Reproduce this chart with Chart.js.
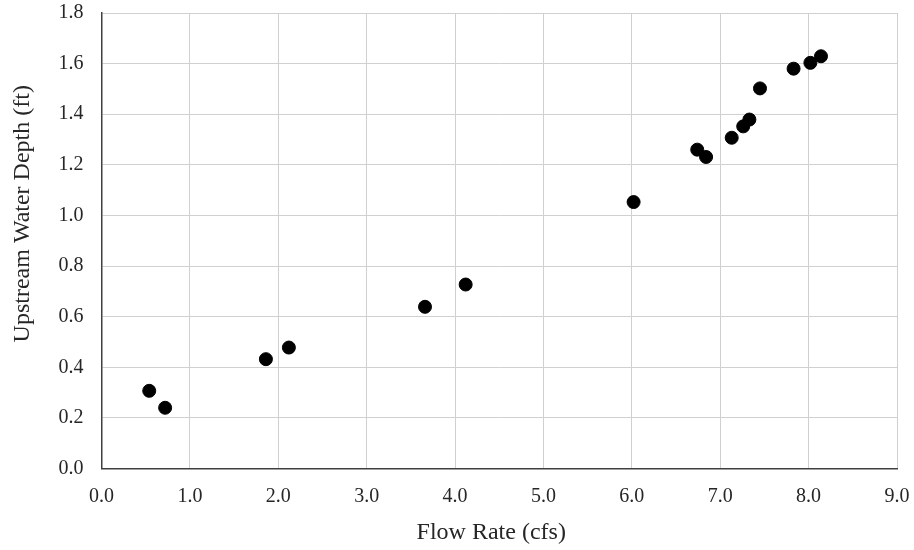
<!DOCTYPE html>
<html>
<head>
<meta charset="utf-8">
<script src="https://cdn.jsdelivr.net/npm/chart.js@4/dist/chart.umd.min.js"></script>
<style>
html,body{margin:0;padding:0;background:#fff;}
#wrap{width:914px;height:550px;position:relative;}
</style>
</head>
<body>
<div id="wrap"><canvas id="c" width="914" height="550"></canvas></div>
<script>
const flowRate = [0.54, 0.72, 1.86, 2.12, 3.66, 4.12, 6.02, 6.74, 6.84, 7.13, 7.26, 7.33, 7.45, 7.83, 8.02, 8.14];
const waterDepth = [0.307, 0.240, 0.432, 0.478, 0.639, 0.727, 1.053, 1.260, 1.231, 1.307, 1.352, 1.379, 1.502, 1.580, 1.603, 1.629];
const xTitle = 'Flow Rate (cfs)';
const yTitle = 'Upstream Water Depth (ft)';

const points = flowRate.map((x, i) => ({x: x, y: waterDepth[i]}));
const serif = '"Liberation Serif", "Times New Roman", serif';
const textColor = '#262626';

const axisTitles = {
  id: 'axisTitles',
  afterDraw(chart) {
    const ctx = chart.ctx, a = chart.chartArea;
    ctx.save();
    ctx.fillStyle = textColor;
    ctx.font = '24px ' + serif;
    ctx.textAlign = 'center';
    ctx.textBaseline = 'middle';
    ctx.fillText(xTitle, (a.left + a.right) / 2 - 8, chart.height - 17);
    ctx.translate(23, (a.top + a.bottom) / 2 - 27);
    ctx.rotate(-Math.PI / 2);
    ctx.fillText(yTitle, 0, 0);
    ctx.restore();
  }
};

new Chart(document.getElementById('c'), {
  type: 'scatter',
  data: {
    datasets: [{
      data: points,
      backgroundColor: '#000',
      borderColor: '#000',
      pointRadius: 6.5,
      pointHoverRadius: 6.5
    }]
  },
  options: {
    responsive: false,
    animation: false,
    events: [],
    layout: {padding: {top: 13, right: 17, left: 0, bottom: 0}},
    plugins: {legend: {display: false}, tooltip: {enabled: false}},
    scales: {
      x: {
        type: 'linear',
        min: 0, max: 9,
        ticks: {stepSize: 1, color: textColor, font: {family: serif, size: 20}, padding: 16,
          callback: v => v.toFixed(1)},
        grid: {color: '#d0d0d0', lineWidth: 1, drawTicks: false},
        border: {color: '#404040', width: 1.5},
        afterFit: s => { s.height = 81.5; s.paddingLeft = 0; s.paddingRight = 0; }
      },
      y: {
        type: 'linear',
        min: 0, max: 1.8,
        ticks: {stepSize: 0.2, color: textColor, font: {family: serif, size: 20}, padding: 18,
          callback: v => v.toFixed(1)},
        grid: {color: '#d0d0d0', lineWidth: 1, drawTicks: false},
        border: {color: '#404040', width: 1.5},
        afterFit: s => { s.width = 101.5; s.paddingTop = 0; s.paddingBottom = 0; }
      }
    }
  },
  plugins: [axisTitles]
});
</script>
</body>
</html>
